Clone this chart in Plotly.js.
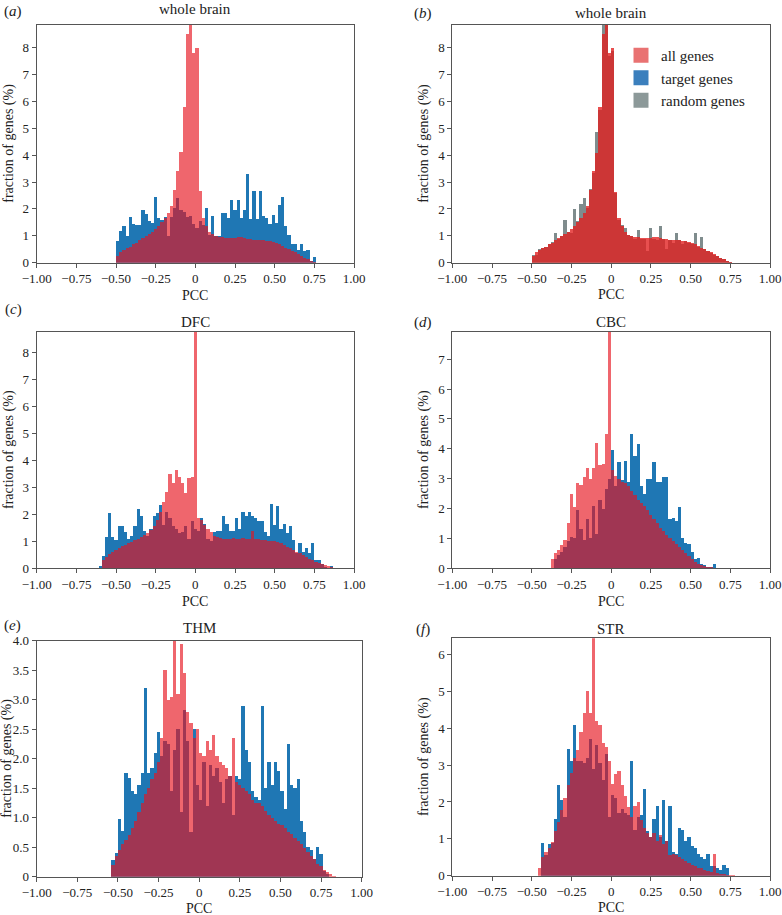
<!DOCTYPE html>
<html>
<head>
<meta charset="utf-8">
<script src="https://cdn.plot.ly/plotly-3.0.1.min.js"></script>
<style>
  html, body { margin: 0; padding: 0; background: #fff; }
  #chart { width: 782px; height: 915px; }
</style>
</head>
<body>
<div id="chart"></div>
<script>
// histogram bin width (PCC units)
const BIN = 0.02;

// (a) whole brain, bins start at -0.50
const startA = -0.5;
const allWhole = [0.25, 0.38, 0.47, 0.53, 0.6, 0.68, 0.75, 0.84, 0.92, 1.0, 1.08, 1.15, 1.25, 1.36, 1.5, 1.65,
  1.85, 2.1, 2.7, 3.4, 4.1, 5.8, 8.5, 9.3, 7.8, 8.0, 2.65, 1.65, 1.35, 1.15, 1.05, 1.0, 0.97, 0.95, 0.93, 0.92,
  0.92, 0.93, 0.94, 0.94, 0.92, 0.9, 0.88, 0.86, 0.85, 0.85, 0.84, 0.82, 0.8, 0.77, 0.73, 0.68, 0.62, 0.56, 0.5,
  0.44, 0.38, 0.32, 0.25, 0.18, 0.12, 0.06, 0.03];
const targetWhole = [0.82, 1.17, 1.35, 1.0, 1.69, 1.45, 1.41, 1.4, 1.95, 1.82, 1.56, 1.48, 2.43, 1.66, 1.6, 1.7,
  1.0, 1.7, 2.05, 2.4, 1.95, 1.9, 1.7, 1.75, 1.45, 1.3, 1.55, 1.4, 2.03, 1.04, 1.72, 0.98, 0.98, 1.85, 1.85, 1.66,
  2.34, 1.97, 2.34, 1.66, 1.97, 3.31, 1.61, 2.66, 1.61, 2.66, 1.72, 1.66, 1.44, 1.79, 1.48, 2.16, 2.43, 1.35, 1.04,
  0.69, 0.69, 0.48, 0.69, 0.42, 0.48, 0.05, 0.23];

// (b) whole brain, random genes (same bins as a)
const randomWhole = [0.3, 0.3, 0.5, 0.55, 0.6, 0.7, 0.78, 1.1, 0.9, 1.0, 1.6, 1.15, 1.1, 2.0, 1.55, 2.2, 2.4,
  2.05, 2.75, 3.35, 4.85, 5.7, 9.0, 9.0, 7.7, 7.9, 2.6, 1.6, 1.4, 1.3, 1.05, 1.0, 0.9, 1.2, 0.9, 0.9, 0.45, 1.3,
  0.9, 0.85, 1.35, 0.9, 0.5, 0.85, 0.75, 1.1, 0.85, 0.7, 0.8, 0.75, 0.7, 1.1, 0.6, 0.95, 0.5, 0.42, 0.36, 0.3,
  0.24, 0.17, 0.12, 0.07, 0.03];

// (c) DFC, bins start at -0.61
const startC = -0.61;
const allDFC = [0.02, 0.3, 0.42, 0.52, 0.6, 0.68, 0.75, 0.82, 0.88, 0.93, 0.98, 1.04, 1.1, 1.17, 1.25, 1.32,
  1.42, 1.55, 1.8, 2.1, 2.45, 2.84, 3.49, 3.15, 3.64, 3.4, 3.15, 2.78, 3.33, 3.4, 9.5, 1.85, 1.79, 1.62, 1.45,
  1.35, 1.2, 1.15, 1.12, 1.1, 1.1, 1.1, 1.12, 1.1, 1.1, 1.12, 1.1, 1.1, 1.38, 1.1, 1.08, 1.06, 1.05, 1.03, 1.02,
  1.0, 0.96, 0.92, 0.86, 0.8, 0.74, 0.68, 0.62, 0.55, 0.48, 0.42, 0.36, 0.3, 0.25, 0.2, 0.15, 0.12, 0.08, 0.05,
  0.02];
const targetDFC = [0.1, 0.45, 1.15, 2.05, 1.15, 1.05, 1.55, 1.55, 1.35, 1.1, 1.2, 1.55, 2.2, 1.95, 1.4, 1.2,
  1.45, 1.95, 2.05, 2.35, 1.6, 2.1, 1.85, 1.55, 1.45, 1.3, 1.35, 1.55, 1.1, 1.75, 1.45, 1.4, 1.85, 1.65, 1.1,
  1.0, 1.35, 1.4, 1.4, 1.95, 1.65, 1.4, 1.4, 1.85, 1.45, 2.1, 1.95, 2.1, 1.95, 1.85, 1.75, 1.75, 1.35, 1.2, 2.4,
  1.6, 2.3, 1.45, 1.65, 1.3, 1.55, 1.05, 0.55, 0.95, 0.6, 0.75, 0.55, 0.95, 0.3, 0.3, 0.15, 0.05, 0.0, 0.1];

// (d) CBC, bins start at -0.38
const startD = -0.38;
const allCBC = [0.3, 0.5, 0.6, 0.78, 0.95, 1.5, 2.5, 2.05, 2.85, 2.8, 3.05, 3.35, 3.0, 3.35, 4.2, 3.45, 3.5,
  4.5, 8.5, 3.3, 3.1, 3.0, 2.9, 2.85, 2.75, 2.6, 2.45, 2.3, 2.2, 2.1, 1.95, 1.8, 1.65, 1.5, 1.35, 1.25, 1.1, 1.0,
  0.9, 0.8, 0.7, 0.6, 0.5, 0.4, 0.3, 0.22, 0.16, 0.12, 0.08, 0.06, 0.04, 0.02, 0.01];
const targetCBC = [0, 0.3, 0.45, 0.55, 0.7, 0.9, 1.05, 1.0, 1.95, 1.3, 0.95, 1.65, 1.0, 2.1, 1.15, 2.3, 2.0,
  2.65, 3.0, 3.95, 2.75, 3.55, 2.95, 3.6, 2.9, 4.5, 3.75, 4.15, 2.75, 2.5, 3.0, 3.0, 3.55, 2.9, 2.9, 3.05, 3.05,
  1.65, 1.7, 1.6, 2.05, 1.0, 0.85, 0.8, 0.55, 0.3, 0.35, 0.15, 0.1, 0.05, 0.05, 0.15];

// (e) THM, bins start at -0.54
const startE = -0.54;
const allTHM = [0.2, 0.35, 0.45, 0.55, 0.62, 0.7, 0.82, 0.95, 1.1, 1.25, 1.4, 1.5, 1.65, 1.75, 1.95, 2.35, 3.5,
  3.0, 3.05, 4.2, 3.1, 3.95, 3.45, 2.8, 2.6, 2.35, 2.5, 2.1, 2.05, 2.3, 2.15, 2.4, 2.05, 1.95, 1.9, 1.85, 1.7,
  2.35, 1.6, 1.55, 1.5, 1.45, 1.4, 1.3, 1.25, 1.25, 1.2, 1.12, 1.05, 1.0, 0.95, 0.9, 0.88, 0.82, 0.75, 0.72,
  0.66, 0.6, 0.55, 0.48, 0.42, 0.35, 0.3, 0.22, 0.18, 0.12, 0.08, 0.05, 0.02];
const targetTHM = [0.29, 0.4, 0.97, 0.78, 1.76, 1.67, 1.45, 1.4, 1.55, 1.76, 3.2, 1.76, 1.85, 2.1, 2.45, 2.05,
  2.3, 2.25, 1.45, 2.15, 2.5, 1.1, 2.83, 2.3, 0.75, 2.5, 1.55, 1.3, 1.95, 1.2, 1.9, 1.7, 1.85, 1.6, 1.25, 1.65,
  1.7, 1.05, 1.7, 1.65, 2.9, 2.15, 1.95, 1.45, 1.35, 1.3, 2.9, 1.5, 1.95, 1.55, 1.95, 1.8, 1.45, 1.15, 2.25, 1.55,
  1.5, 1.65, 0.95, 0.75, 0.5, 0.45, 0.3, 0.5, 0.38, 0.1, 0.05, 0, 0];

// (f) STR, bins start at -0.46
const startF = -0.46;
const allSTR = [0.2, 0.5, 0.65, 0.74, 0.92, 1.2, 1.45, 1.78, 2.1, 2.46, 2.78, 3.18, 3.4, 3.9, 4.4, 5.0, 4.4, 6.8,
  4.2, 4.1, 3.6, 3.5, 3.1, 2.5, 2.75, 2.85, 2.45, 2.15, 1.85, 1.6, 1.9, 2.0, 1.5, 1.3, 1.15, 1.05, 1.15, 0.95,
  1.1, 0.85, 0.95, 0.55, 0.6, 0.55, 0.5, 0.45, 0.4, 0.35, 0.3, 0.25, 0.22, 0.2, 0.15, 0.12, 0.1, 0.6, 0.08, 0.05,
  0.04, 0.03, 0.02, 0.02];
const targetSTR = [0, 0.9, 0.55, 0.85, 0.9, 1.55, 2.45, 2.05, 1.6, 3.45, 3.1, 4.1, 3.1, 3.1, 3.05, 3.2, 3.7, 2.9,
  3.55, 3.05, 2.6, 3.3, 1.6, 2.2, 2.1, 1.7, 1.8, 1.7, 1.65, 3.1, 1.25, 1.6, 1.65, 2.35, 1.2, 1.05, 1.55, 1.9,
  1.05, 2.05, 0.95, 1.9, 0.65, 0.6, 1.3, 1.25, 0.95, 1.05, 0.8, 0.75, 0.6, 0.5, 0.45, 0.6, 0.25, 0.25, 0.2, 0.15,
  0.3, 0.2, 0, 0];

// legend of panel (b)
const legendNames = ["all genes", "target genes", "random genes"];

// tick labels
const xTicks = [-1, -0.75, -0.5, -0.25, 0, 0.25, 0.5, 0.75, 1];
const xTickText = ["\u22121.00", "\u22120.75", "\u22120.50", "\u22120.25", "0", "0.25", "0.50", "0.75", "1.00"];
const yTicksInt8 = [0, 1, 2, 3, 4, 5, 6, 7, 8];
const yTicksInt7 = [0, 1, 2, 3, 4, 5, 6, 7];
const yTicksInt6 = [0, 1, 2, 3, 4, 5, 6];
const yTicksTHM = [0, 0.5, 1, 1.5, 2, 2.5, 3, 3.5, 4];
const yTickTextTHM = ["0", "0.5", "1.0", "1.5", "2.0", "2.5", "3.0", "3.5", "4.0"];

const FONT = "Liberation Serif, DejaVu Serif, Times New Roman, serif";
const BLUE = "#1f77b4";
const RED = "rgba(230,20,30,0.65)";
const RED_B = "rgba(225,30,30,0.78)";
const RED_KEY = "#e97272";
const GREY = "#7f8c8d";
const W = 782, H = 915;

function binCenters(start, n) {
  const xs = [];
  for (let i = 0; i < n; i++) xs.push(+(start + BIN * (i + 0.5)).toFixed(3));
  return xs;
}

function axisId(n, letter) {
  return letter + (n === 1 ? "" : n);
}

function histTrace(vals, start, color, n) {
  return {
    type: "bar",
    x: binCenters(start, vals.length),
    y: vals,
    width: BIN,
    showlegend: false,
    marker: { color: color, line: { width: 0 } },
    xaxis: axisId(n, "x"),
    yaxis: axisId(n, "y"),
    hoverinfo: "skip",
  };
}

// legend-only keys (no marks), drawn as square swatches
function keyTrace(name, color, rank) {
  return {
    type: "scatter",
    mode: "markers",
    x: [null],
    y: [null],
    name: name,
    legendrank: rank,
    showlegend: true,
    marker: { symbol: "square", size: 15, color: color },
    xaxis: "x2",
    yaxis: "y2",
    hoverinfo: "skip",
  };
}

let traces = [
  histTrace(targetWhole, startA, BLUE, 1),
  histTrace(allWhole, startA, RED, 1),

  histTrace(randomWhole, startA, GREY, 2),
  histTrace(allWhole, startA, RED_B, 2),

  histTrace(targetDFC, startC, BLUE, 3),
  histTrace(allDFC, startC, RED, 3),

  histTrace(targetCBC, startD, BLUE, 4),
  histTrace(allCBC, startD, RED, 4),

  histTrace(targetTHM, startE, BLUE, 5),
  histTrace(allTHM, startE, RED, 5),

  histTrace(targetSTR, startF, BLUE, 6),
  histTrace(allSTR, startF, RED, 6),

  keyTrace(legendNames[0], RED_KEY, 1),
  keyTrace(legendNames[1], "#3b7fbd", 2),
  keyTrace(legendNames[2], "#8c9999", 3),
];

// panel boxes in pixels: left, right, top, bottom
const boxes = [
  [36.7, 354, 24.7, 262.7],
  [452.3, 770, 25, 262.7],
  [36.7, 354, 331.7, 568.3],
  [452.3, 770, 331.7, 568.3],
  [36.7, 361.7, 640.7, 876.7],
  [452.3, 770, 638.3, 875.7],
];
const yRanges = [8.85, 8.85, 8.77, 7.92, 4.0, 6.44];
const yTickSets = [yTicksInt8, yTicksInt8, yTicksInt8, yTicksInt7, yTicksTHM, yTicksInt6];

const layout = {
  width: W,
  height: H,
  margin: { l: 0, r: 0, t: 0, b: 0 },
  paper_bgcolor: "#fff",
  plot_bgcolor: "#fff",
  barmode: "overlay",
  bargap: 0,
  font: { family: FONT, size: 13, color: "#222" },
  showlegend: true,
  legend: {
    x: 621 / W,
    y: 1 - 39 / H,
    xanchor: "left",
    yanchor: "top",
    bgcolor: "rgba(0,0,0,0)",
    font: { family: FONT, size: 15, color: "#222" },
    tracegroupgap: 0,
  },
  annotations: [],
};

boxes.forEach((b, k) => {
  const n = k + 1;
  layout["xaxis" + (n === 1 ? "" : n)] = {
    domain: [b[0] / W, b[1] / W],
    anchor: axisId(n, "y"),
    range: [-1, 1],
    tickmode: "array",
    tickvals: xTicks,
    ticktext: xTickText,
    ticks: "outside",
    ticklen: 4,
    tickcolor: "#555",
    showline: true,
    linecolor: "#555",
    linewidth: 1,
    mirror: true,
    showgrid: false,
    zeroline: false,
    tickfont: { family: FONT, size: 13, color: "#222" },
    fixedrange: true,
  };
  layout["yaxis" + (n === 1 ? "" : n)] = {
    domain: [1 - b[3] / H, 1 - b[2] / H],
    anchor: axisId(n, "x"),
    range: [0, yRanges[k]],
    tickmode: "array",
    tickvals: yTickSets[k],
    ticktext: k === 4 ? yTickTextTHM : yTickSets[k].map(String),
    ticks: "outside",
    ticklen: 4,
    tickcolor: "#555",
    showline: true,
    linecolor: "#555",
    linewidth: 1,
    mirror: true,
    showgrid: false,
    zeroline: false,
    tickfont: { family: FONT, size: 13, color: "#222" },
    fixedrange: true,
  };
});

function txt(px, py, text, size, angle) {
  return {
    xref: "paper", yref: "paper",
    x: px / W, y: 1 - py / H,
    xanchor: "center", yanchor: "middle",
    text: text, showarrow: false,
    textangle: angle || 0,
    font: { family: FONT, size: size, color: "#222" },
  };
}

// panel letters and titles
layout.annotations.push(
  txt(13, 12, "(<i>a</i>)", 15), txt(195, 9, "whole brain", 15),
  txt(423, 14, "(<i>b</i>)", 15), txt(611, 13, "whole brain", 15),
  txt(13, 310, "(<i>c</i>)", 15), txt(195, 322, "DFC", 15),
  txt(423, 322, "(<i>d</i>)", 15), txt(611, 322, "CBC", 15),
  txt(12, 625, "(<i>e</i>)", 15), txt(199, 628, "THM", 15),
  txt(423, 629, "(<i>f</i>)", 15), txt(611, 629, "STR", 15)
);

// axis titles
const pccY = [295, 294, 601, 601, 908, 907];
const ylabX = [9, 424, 9, 424, 7, 424];
boxes.forEach((b, k) => {
  layout.annotations.push(txt((b[0] + b[1]) / 2, pccY[k], "PCC", 14));
  layout.annotations.push(txt(ylabX[k], (b[2] + b[3]) / 2, "fraction of genes (%)", 14, -90));
});

const config = { responsive: false, displayModeBar: false, staticPlot: true };

Plotly.newPlot("chart", traces, layout, config);
</script>
</body>
</html>
